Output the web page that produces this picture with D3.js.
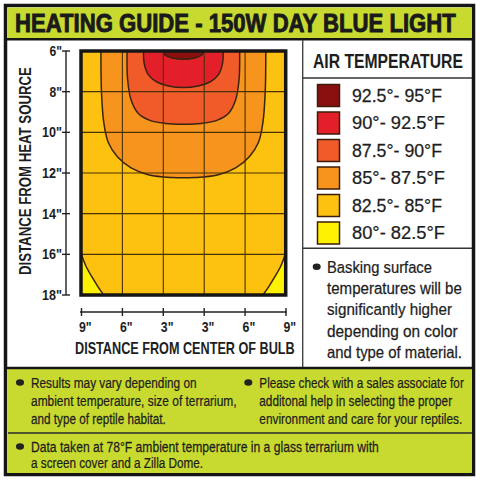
<!DOCTYPE html>
<html><head><meta charset="utf-8">
<script src="https://cdn.jsdelivr.net/npm/d3@7"></script>
<style>
html,body{margin:0;padding:0;background:#fff}
svg{display:block}
text{font-family:"Liberation Sans",Arial,"Helvetica",sans-serif;fill:#1e1e1e}
</style></head><body>
<svg id="c" width="480" height="480"></svg>
<script>
// ---------- data ----------
const titleText = "HEATING GUIDE - 150W DAY BLUE LIGHT";
const legendTitle = "AIR TEMPERATURE";
const tempBands = ["92.5°- 95°F","90°- 92.5°F","87.5°- 90°F","85°- 87.5°F","82.5°- 85°F","80°- 82.5°F"];
const bandColors = ["#8a0f0f","#e3202a","#f15a29","#f7941d","#fdc10f","#fff200"];
const depthTicks = [6,8,10,12,14,16,18];
const offsetTickLabels = ['9"','6"','3"','3"','6"','9"'];
const xTitle = "DISTANCE FROM CENTER OF BULB";
const yTitle = "DISTANCE FROM HEAT SOURCE";
// isotherm boundaries: [inches from bulb centre (left -, right +), inches from heat source]
const iso925 = [[-1.85,6],[-1.6,6.2],[-0.9,6.36],[0,6.4],[0.9,6.36],[1.6,6.2],[1.85,6]];
const iso90  = [[-3.5,6],[-3.45,6.6],[-3.1,7.15],[-2.4,7.5],[-1.3,7.72],[0,7.8],[1.3,7.72],[2.4,7.5],[3.1,7.15],[3.45,6.6],[3.5,6]];
const iso875 = [[-4.95,6],[-4.9,7.4],[-4.6,8.4],[-4.0,9.05],[-3.0,9.4],[-1.6,9.56],[0,9.6],[1.6,9.56],[3.0,9.4],[4.0,9.05],[4.6,8.4],[4.9,7.4],[4.95,6]];
const iso85  = [[-7.25,6],[-7.2,8],[-7.0,9.5],[-6.6,10.5],[-5.8,11.2],[-4.6,11.75],[-3,12.1],[-1,12.22],[1,12.22],[3,12.1],[4.6,11.75],[5.8,11.2],[6.6,10.5],[7.0,9.5],[7.2,8],[7.25,6]];
const iso825Left  = [[-9,15.95],[-8.55,16.6],[-8.05,17.1],[-7.5,17.6],[-7.0,18]];
const iso825Right = [[9,15.95],[8.55,16.6],[8.05,17.1],[7.5,17.6],[7.0,18]];
const noteBasking = ["Basking surface","temperatures will be","significantly higher","depending on color","and type of material."];
const noteResults = ["Results may vary depending on","ambient temperature, size of terrarium,","and type of reptile habitat."];
const noteSales = ["Please check with a sales associate for","additonal help in selecting the proper","environment and care for your reptiles."];
const noteData = ["Data taken at 78°F ambient temperature in a glass terrarium with","a screen cover and a Zilla Dome."];

// ---------- helpers ----------
const svg = d3.select("#c");
function ftext(parent, str, px, py, fs, target, opts={}){
  const t = parent.append("text").attr("font-size",fs).text(str);
  if (opts.bold) t.attr("font-weight","bold");
  if (opts.anchor) t.attr("text-anchor",opts.anchor);
  if (opts.weight) t.attr("stroke","#1e1e1e").attr("stroke-width",opts.weight);
  const w = t.node().getComputedTextLength();
  const s = target ? target/w : 1;
  t.attr("transform",`translate(${px},${py})${opts.rot?` rotate(${opts.rot})`:""} scale(${s},1)`);
  return t;
}

// ---------- layout ----------
const lime = "#c8da2f";
const P = {l:81, r:285.7, t:51, b:295};

svg.append("rect").attr("x",5.5).attr("y",5.5).attr("width",468).attr("height",469).attr("fill","#fff").attr("stroke","#151515").attr("stroke-width",3.5);
svg.append("rect").attr("x",7.5).attr("y",7.5).attr("width",464).attr("height",31).attr("fill",lime);
svg.append("line").attr("x1",6).attr("x2",473).attr("y1",39.3).attr("y2",39.3).attr("stroke","#151515").attr("stroke-width",2.5);
svg.append("rect").attr("x",7.5).attr("y",368.5).attr("width",464).attr("height",104.5).attr("fill",lime);
svg.append("line").attr("x1",6).attr("x2",473).attr("y1",368).attr("y2",368).attr("stroke","#151515").attr("stroke-width",2.5);
svg.append("line").attr("x1",8).attr("x2",472).attr("y1",433).attr("y2",433).attr("stroke","#2a2a2a").attr("stroke-width",1.3);
svg.append("line").attr("x1",302.7).attr("x2",302.7).attr("y1",40).attr("y2",367).attr("stroke","#444").attr("stroke-width",1.4);
svg.append("line").attr("x1",303).attr("x2",472).attr("y1",78).attr("y2",78).attr("stroke","#333").attr("stroke-width",1.4);
svg.append("line").attr("x1",303).attr("x2",472).attr("y1",248.3).attr("y2",248.3).attr("stroke","#333").attr("stroke-width",1.4);

// title
ftext(svg, titleText, 15, 31.5, 25, 441, {bold:true, weight:0.9}).style("fill","#1a1a1a").attr("stroke","#1a1a1a");

// scales
const x = d3.scaleLinear().domain([-9,9]).range([P.l,P.r]);
const y = d3.scaleLinear().domain([6,18]).range([P.t,P.b]);
const xTick = d3.scalePoint().domain(d3.range(offsetTickLabels.length)).range([81.5,286]);
const color = d3.scaleOrdinal().domain(tempBands).range(bandColors);
const line = d3.line().x(d=>x(d[0])).y(d=>y(d[1])).curve(d3.curveCatmullRom.alpha(0.5));

svg.append("defs").append("clipPath").attr("id","plotclip").append("rect")
  .attr("x",P.l).attr("y",P.t).attr("width",P.r-P.l).attr("height",P.b-P.t);
const g = svg.append("g").attr("clip-path","url(#plotclip)");

g.append("rect").attr("x",P.l).attr("y",P.t).attr("width",P.r-P.l).attr("height",P.b-P.t).attr("fill",color(tempBands[4]));
[[iso825Left,-9],[iso825Right,9]].forEach(([pts,cx])=>{
  g.append("path").attr("d", line(pts)+"L"+x(cx)+","+y(18)+"Z").attr("fill",color(tempBands[5]));
});
[[iso85,3],[iso875,2],[iso90,1],[iso925,0]].forEach(([pts,i])=>{
  g.append("path").attr("d", line(pts)+"Z").attr("fill",color(tempBands[i]));
});
[iso85,iso875,iso90,iso925,iso825Left,iso825Right].forEach(pts=>{
  g.append("path").attr("d", line(pts)).attr("fill","none").attr("stroke","#3a2410").attr("stroke-width",1.5);
});
depthTicks.slice(1,-1).forEach(t=>{
  g.append("line").attr("x1",P.l).attr("x2",P.r).attr("y1",y(t)).attr("y2",y(t)).attr("stroke","#4a3208").attr("stroke-width",1.1);
});
xTick.domain().slice(1,-1).forEach(i=>{
  g.append("line").attr("x1",xTick(i)).attr("x2",xTick(i)).attr("y1",P.t).attr("y2",P.b).attr("stroke","#4a3208").attr("stroke-width",1.1);
});
svg.append("rect").attr("x",P.l).attr("y",P.t).attr("width",P.r-P.l).attr("height",P.b-P.t)
  .attr("fill","none").attr("stroke","#161616").attr("stroke-width",3.5);

// y axis
const yAx = svg.append("g").attr("transform","translate(66,0)");
yAx.append("line").attr("y1",y(6)).attr("y2",y(18)).attr("stroke","#222").attr("stroke-width",1.4);
depthTicks.forEach(t=>{
  yAx.append("line").attr("x1",-4).attr("x2",4).attr("y1",y(t)).attr("y2",y(t)).attr("stroke","#222").attr("stroke-width",1.4);
  const lbl = t+'"';
  ftext(yAx, lbl, -4, y(t)+5, 14.5, lbl.length>2 ? 20 : 12.5, {bold:true, anchor:"end"});
});
// x axis
const xAx = svg.append("g").attr("transform","translate(0,312)");
xAx.append("line").attr("x1",80).attr("x2",287).attr("stroke","#222").attr("stroke-width",1.4);
xTick.domain().forEach(i=>{
  xAx.append("line").attr("x1",xTick(i)).attr("x2",xTick(i)).attr("y1",-4).attr("y2",4).attr("stroke","#222").attr("stroke-width",1.4);
  ftext(xAx, offsetTickLabels[i], xTick(i)-2.5, 19.5, 14.5, 12.7, {bold:true});
});
ftext(svg, xTitle, 75, 354, 16.5, 220, {bold:true});
ftext(svg, yTitle, 31, 275, 16.5, 208, {bold:true, rot:-90});

// legend
ftext(svg, legendTitle, 313, 67.5, 19.5, 150, {bold:true});
const legendWidths = [90,93,90,93,90,93];
const lg = svg.append("g").selectAll("g").data(tempBands).join("g")
  .attr("transform",(d,i)=>`translate(0,${95+27.5*i})`);
lg.append("rect").attr("x",317.5).attr("y",-10.5).attr("width",22).attr("height",22)
  .attr("fill",d=>color(d)).attr("stroke","#3b1d0a").attr("stroke-width",1.5);
lg.each(function(d,i){ ftext(d3.select(this), d, 352, 6.5, 18.5, legendWidths[i], {weight:0.25}); });

// notes
function note(lines, bx, by, tx, lh, fs, widths){
  svg.append("ellipse").attr("cx",bx).attr("cy",by).attr("rx",4).attr("ry",3.3).attr("fill","#222");
  lines.forEach((t,i)=> ftext(svg, t, tx, by+fs*0.36+lh*i, fs, widths[i], {weight:0.25}));
}
note(noteBasking, 316.7, 266.7, 327, 21.3, 16.5, [105,135,125,130.7,135]);
note(noteResults, 20, 382.5, 31, 17.8, 15, [165.7,205.7,135]);
note(noteSales, 248.3, 382.5, 259.3, 17.8, 15, [204.7,193,203]);
note(noteData, 20, 446.5, 31, 16.5, 15, [348.3,172.3]);
</script>
</body></html>
